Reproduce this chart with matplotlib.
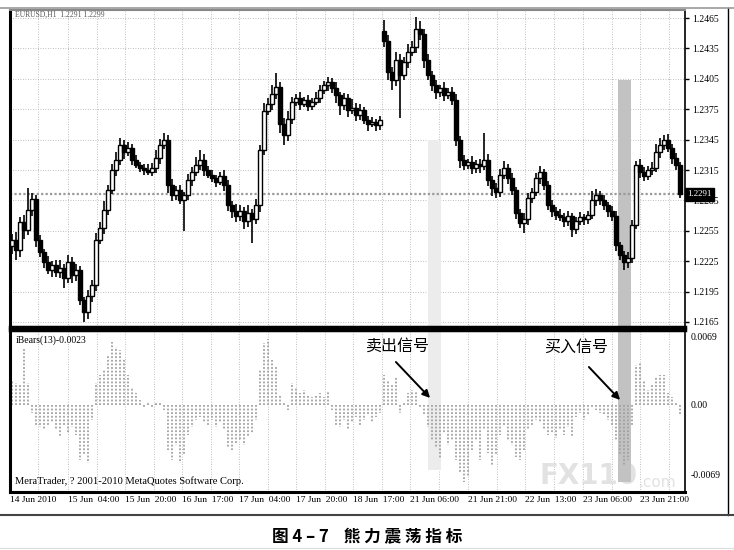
import numpy as np
import matplotlib
matplotlib.use("Agg")
import matplotlib.pyplot as plt
from matplotlib.patches import Rectangle

plt.rcParams['font.family'] = ['Liberation Serif', 'DejaVu Serif']

# EURUSD H1, closes in pips (1.2xxx -> xxxx)
close_pips = [
    2246, 2236, 2264, 2256, 2276, 2286, 2246, 2234, 2224, 2216,
    2221, 2214, 2218, 2208, 2224, 2211, 2216, 2187, 2175, 2191,
    2201, 2246, 2258, 2276, 2295, 2315, 2325, 2340, 2333, 2337,
    2325, 2320, 2317, 2315, 2313, 2317, 2327, 2340, 2345, 2300,
    2290, 2295, 2285, 2290, 2305, 2313, 2320, 2325, 2315, 2310,
    2307, 2303, 2309, 2300, 2280, 2275, 2270, 2275, 2265, 2273,
    2267, 2280, 2335, 2373, 2380, 2390, 2397, 2360, 2350, 2365,
    2382, 2386, 2380, 2384, 2378, 2382, 2386, 2394, 2399, 2402,
    2396, 2389, 2379, 2386, 2374, 2376, 2369, 2374, 2364, 2360,
    2362, 2359, 2364, 2442, 2412, 2404, 2424, 2409, 2422, 2432,
    2436, 2454, 2449, 2424, 2409, 2399, 2392, 2396, 2389, 2392,
    2384, 2345, 2325, 2320, 2323, 2317, 2321, 2319, 2325, 2305,
    2297, 2293, 2310, 2317, 2307, 2295, 2273, 2263, 2267, 2287,
    2293, 2307, 2313, 2300, 2280, 2275, 2271, 2269, 2265, 2270,
    2257, 2265, 2269, 2267, 2271, 2285, 2290, 2285, 2280, 2275,
    2270, 2241, 2231, 2224, 2228, 2261, 2320, 2313, 2309, 2315,
    2317, 2333, 2340, 2345, 2337, 2327, 2320, 2291]
first_open = 2240
gap_opens = {93: 2452}   # monday gap (yuan news)

# wick above / below body, pips
wick_up = [
    6, 8, 5, 7, 21, 6, 4, 5, 3, 6, 4, 5, 8, 4, 7, 5, 6, 4, 3, 6,
    5, 7, 6, 8, 5, 6, 8, 7, 5, 6, 4, 5, 3, 4, 6, 5, 8, 6, 7, 5,
    6, 4, 5, 3, 6, 5, 8, 10, 6, 4, 5, 3, 4, 6, 5, 4, 6, 5, 3, 7,
    4, 6, 5, 8, 6, 9, 14, 5, 6, 8, 5, 4, 6, 3, 5, 4, 6, 5, 4, 5,
    4, 6, 3, 5, 4, 9, 5, 6, 3, 4, 5, 3, 4, 11, 6, 5, 8, 6, 5, 7,
    6, 12, 8, 5, 6, 4, 5, 3, 6, 4, 5, 6, 4, 5, 3, 6, 4, 5, 27, 6,
    4, 5, 6, 7, 4, 5, 3, 4, 6, 5, 4, 5, 6, 3, 4, 5, 3, 6, 4, 5,
    3, 4, 5, 3, 4, 9, 6, 4, 5, 3, 4, 5, 3, 4, 6, 5, 4, 6, 5, 4,
    6, 8, 7, 5, 6, 4, 5, 3]
wick_dn = [
    8, 10, 7, 9, 5, 6, 7, 5, 6, 4, 7, 5, 6, 9, 5, 8, 6, 5, 10, 7,
    6, 5, 4, 6, 5, 4, 6, 5, 7, 4, 5, 3, 4, 5, 3, 4, 5, 6, 4, 8,
    6, 5, 4, 30, 5, 6, 4, 5, 6, 3, 4, 5, 3, 6, 5, 7, 6, 5, 8, 6,
    24, 5, 6, 5, 4, 6, 5, 8, 10, 6, 5, 4, 6, 3, 5, 4, 3, 5, 4, 6,
    5, 8, 10, 5, 7, 4, 6, 5, 4, 6, 3, 5, 4, 6, 8, 10, 6, 43, 5, 6,
    4, 5, 6, 8, 5, 6, 7, 5, 6, 4, 5, 6, 8, 5, 4, 6, 5, 7, 4, 6,
    8, 6, 5, 4, 6, 5, 6, 5, 10, 6, 5, 4, 6, 5, 4, 6, 5, 4, 6, 5,
    8, 5, 4, 6, 5, 4, 6, 5, 4, 6, 5, 6, 5, 8, 6, 5, 4, 6, 5, 4,
    5, 4, 6, 5, 4, 6, 5, 4]

# iBears(13) histogram, pips
bears_pips = [
    25, 22, 20, 57, 22, -8, -20, -22, -25, -20,
    -18, -24, -32, -20, -28, -22, -30, -55, -50, -58,
    -15, 22, 30, 35, 50, 63, 58, 55, 45, 30,
    18, 12, 5, -2, 2, -3, 3, 2, -5, -45,
    -55, -40, -58, -50, -30, -22, -15, -12, -18, -20,
    -15, -22, -18, -25, -42, -45, -38, -35, -40, -32,
    -28, -15, 35, 62, 66, 45, 38, 10, 3, -5,
    22, 18, 12, 15, 10, 8, 10, 12, 8, 14,
    -5, -20, -22, -15, -25, -18, -12, -20, -15, -10,
    -18, -12, -8, 30, 25, 20, 28, -8, 3, 12,
    15, 14, -2, -10, -22, -35, -43, -53, -28, -40,
    -35, -55, -68, -77, -72, -45, -35, -55, -25, -48,
    -60, -50, -30, -20, -35, -40, -52, -55, -45, -25,
    -20, -15, -18, -25, -30, -28, -33, -25, -30, -22,
    -32, -12, -8, -15, -10, -3, -5, -8, -10, -15,
    -20, -35, -50, -60, -55, -20, 40, 43, 25, 15,
    20, 28, 30, 30, 12, 8, 3, -10]

price_ticks = [1.2465, 1.2435, 1.2405, 1.2375, 1.2345, 1.2315,
               1.2285, 1.2255, 1.2225, 1.2195, 1.2165]
last_price = 1.2291
date_labels = ["14 Jun 2010", "15 Jun  04:00", "15 Jun  20:00", "16 Jun  17:00",
               "17 Jun  04:00", "17 Jun  20:00", "18 Jun  17:00", "21 Jun 06:00",
               "21 Jun 21:00", "22 Jun  13:00", "23 Jun 06:00", "23 Jun 21:00"]
date_pos = [-0.5, 14, 28.25, 42.5, 56.75, 71, 85.25, 99.5, 114, 128.25, 142.75, 157]
sell_band = (104, 107.25)
buy_band = (151.5, 154.75)

pip = 0.0001
c = np.round(1 + np.array(close_pips) / 10000.0, 4)
o = np.concatenate([[1 + first_open / 10000.0], c[:-1]])
for k, v in gap_opens.items():
    o[k] = 1 + v / 10000.0
hi = np.maximum(o, c) + np.array(wick_up) * pip
lo = np.minimum(o, c) - np.array(wick_dn) * pip
bears = np.array(bears_pips) * pip
x = np.arange(len(c))

W, H = 734, 550
fig = plt.figure(figsize=(7.34, 5.5), dpi=100)

def fbox(l, t, r, b):
    return [l / W, 1 - b / H, (r - l) / W, (b - t) / H]

ax = fig.add_axes(fbox(10, 10, 685, 327))
ax2 = fig.add_axes(fbox(10, 330, 685, 492))

# grid positions (every ~28.5 px)
grid_x = [6.5] + [p for p in date_pos[1:]] + \
         [(a + b) / 2 for a, b in zip(date_pos[1:-1], date_pos[2:])] + [164.25]
gstyle = dict(color='#aaaaaa', lw=0.6, ls=(0, (1, 2)), zorder=0)
for g in grid_x:
    ax.axvline(g, **gstyle)
    ax2.axvline(g, **gstyle)
for t in price_ticks:
    ax.axhline(t, **gstyle)

# signal bands
ax.add_patch(Rectangle((sell_band[0], 1.2160), sell_band[1] - sell_band[0], 1.2345 - 1.2160,
                       color='#ececec', zorder=0.5, lw=0))
ax.add_patch(Rectangle((buy_band[0], 1.2160), buy_band[1] - buy_band[0], 1.2404 - 1.2160,
                       color='#c2c2c2', zorder=0.5, lw=0))
ax2.add_patch(Rectangle((sell_band[0], -0.0065), sell_band[1] - sell_band[0], 0.014,
                        color='#ececec', zorder=0.5, lw=0))
ax2.add_patch(Rectangle((buy_band[0], -0.0077), buy_band[1] - buy_band[0], 0.0152,
                        color='#c2c2c2', zorder=0.5, lw=0))

ax.axhline(last_price, color='#9a9a9a', lw=1.6, ls=(0, (1, 1)), zorder=1)

# candles
ax.vlines(x, lo, hi, color='black', lw=1.2, zorder=2)
up = c >= o
body = np.maximum(np.abs(c - o), 0.00008)
ax.bar(x, body, bottom=np.minimum(o, c), width=0.85,
       color=np.where(up, 'white', 'black'), edgecolor='black', lw=1.0, zorder=3)

ax.set_xlim(-0.5, 168.25)
ax.set_ylim(1.2160, 1.2473)
ax.set_yticks(price_ticks)
ax.set_yticklabels([f"{t:.4f}" for t in price_ticks])
ax.yaxis.tick_right()
ax.tick_params(axis='y', direction='out', length=3, width=1, labelsize=7, pad=2)
ax.set_xticks([])
ax.text(1.004, last_price, f"{last_price:.4f}", transform=ax.get_yaxis_transform(),
        va='center', ha='left', fontsize=6.5, color='white',
        bbox=dict(boxstyle='square,pad=0.25', fc='black', ec='black'), zorder=5,
        clip_on=False)
ax.text(0.008, 0.998, "EURUSD,H1  1.2291 1.2299", transform=ax.transAxes,
        fontsize=5.5, va='top', color='#555555')

# watermark, behind the histogram
wm = dict(family='DejaVu Sans', color='#e2e2e2', zorder=0.2, clip_on=True,
          va='bottom', transform=fig.dpi_scale_trans)
ax2.text(540 / 100, (H - 490) / 100, "FX110", fontsize=20, fontweight='bold', **wm)
ax2.text(638 / 100, (H - 490) / 100, ".com", fontsize=11, **wm)

# bears histogram
ax2.vlines(x, 0, bears, colors='#a2a2a2', lw=1.3, linestyles=(0, (1, 1)), zorder=2)
ax2.set_xlim(-0.5, 168.25)
ax2.set_ylim(-0.0087, 0.0075)
ax2.set_yticks([0.0069, 0.0, -0.0069])
ax2.set_yticklabels(["0.0069", "0.00", "-0.0069"])
ax2.yaxis.tick_right()
ax2.tick_params(axis='y', direction='out', length=0, labelsize=7, pad=4)
ax2.set_xticks(date_pos)
ax2.set_xticklabels(date_labels, ha='left', fontsize=6.8)
ax2.tick_params(axis='x', length=0, pad=3)
ax2.text(0.008, 0.965, "iBears(13)-0.0023", transform=ax2.transAxes,
         fontsize=7, va='top')
ax2.text(0.008, 0.035, "MeraTrader, ? 2001-2010 MetaQuotes Software Corp.",
         transform=ax2.transAxes, fontsize=7.6, va='bottom')

for a in (ax, ax2):
    for s in a.spines.values():
        s.set_color('black')
    a.spines['left'].set_linewidth(2.2)
    a.spines['right'].set_linewidth(1.2)
ax.spines['top'].set_color('#888888')
ax.spines['top'].set_linewidth(1.5)
ax.spines['bottom'].set_linewidth(2.5)
ax2.spines['top'].set_linewidth(2.5)
ax2.spines['bottom'].set_linewidth(2.2)

# annotations
cjk = ['Noto Sans CJK SC', 'DejaVu Sans']
fig.text(398 / W, 1 - 346 / H, "卖出信号", family=cjk, fontsize=11.5,
         ha='center', va='center')
fig.text(576 / W, 1 - 347 / H, "买入信号", family=cjk, fontsize=11.5,
         ha='center', va='center')
arrow = dict(arrowstyle='-|>', color='black', lw=1.4, mutation_scale=11)
ax2.annotate('', xy=(432, H - 400), xytext=(394, H - 360),
             xycoords='figure pixels', textcoords='figure pixels', arrowprops=arrow)
ax2.annotate('', xy=(622, H - 402), xytext=(587, H - 365),
             xycoords='figure pixels', textcoords='figure pixels', arrowprops=arrow)

# window frame lines
fig.add_artist(plt.Line2D([728 / W, 728 / W], [1 - 515 / H, 1 - 8 / H], color='black', lw=1))
fig.add_artist(plt.Line2D([0, 1], [1 - 515 / H, 1 - 515 / H], color='#444444', lw=1.5))
fig.add_artist(plt.Line2D([0, 1], [1 - 8 / H, 1 - 8 / H], color='#999999', lw=1.2))
fig.add_artist(plt.Line2D([0, 1], [1 - 548 / H, 1 - 548 / H], color='#dddddd', lw=0.8))

fig.text(367 / W, 1 - 537 / H, "图 4 – 7    熊 力 震 荡 指 标", family=cjk,
         fontsize=12, fontweight='bold', ha='center', va='center')

fig.savefig("out.png", dpi=100)
plt.close(fig)
